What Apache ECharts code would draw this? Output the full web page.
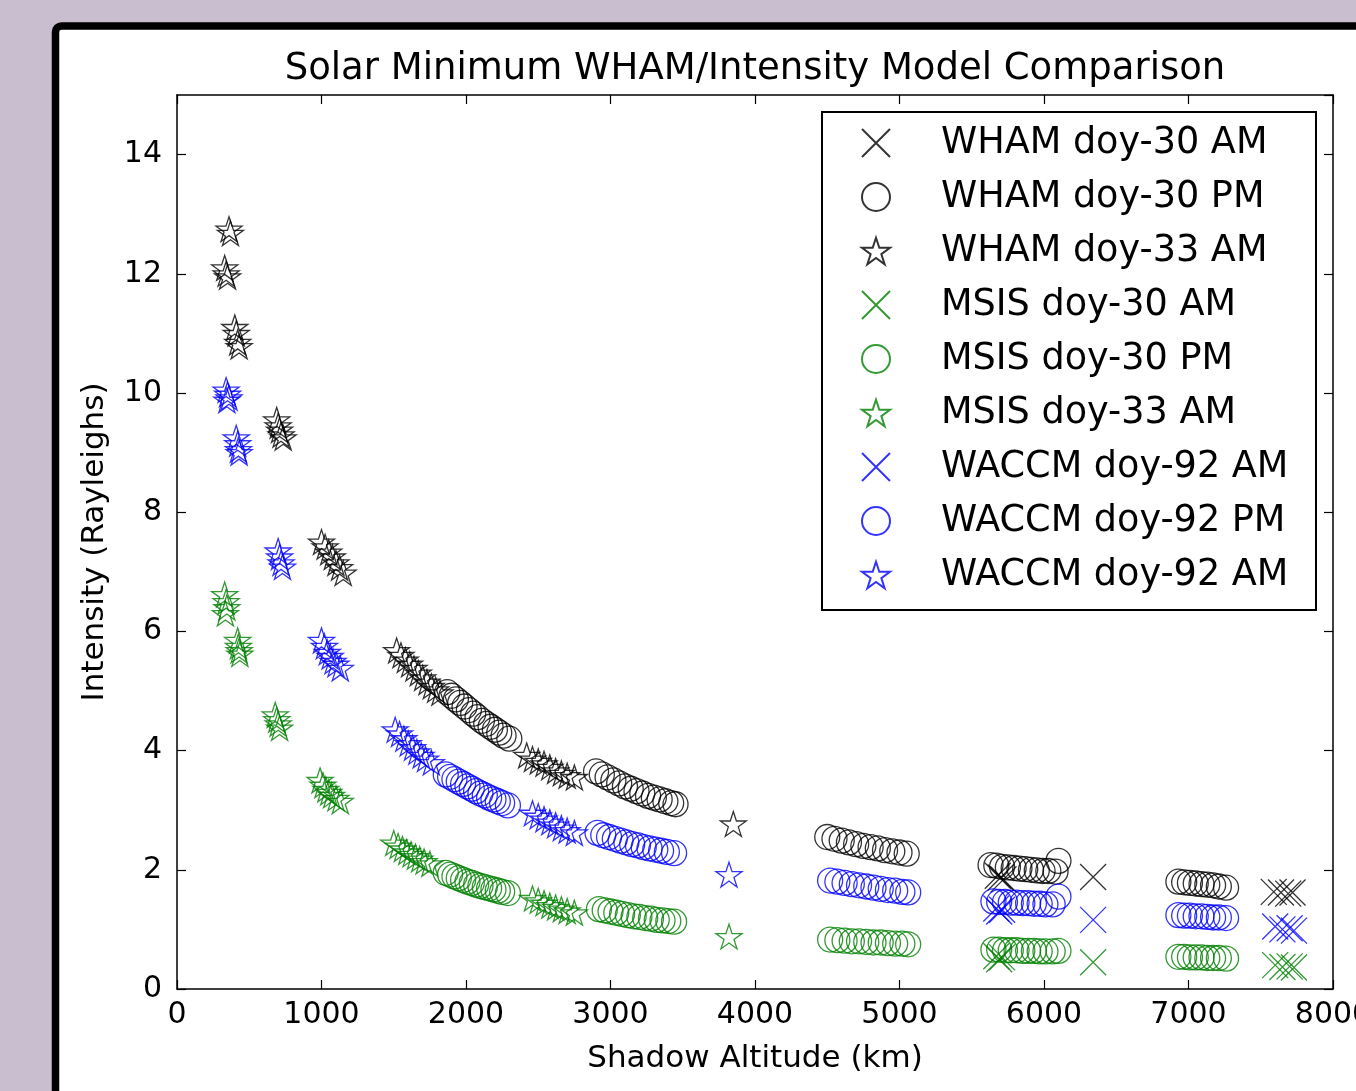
<!DOCTYPE html>
<html>
<head>
<meta charset="utf-8">
<script src="https://cdn.jsdelivr.net/npm/echarts@6/dist/echarts.min.js"></script>
<style>
  html, body { margin: 0; padding: 0; background: #c9bdd0; }
  #chart { width: 1356px; height: 1091px; }
</style>
</head>
<body>
<div id="chart"></div>
<script>
// [shadow altitude km, intensity R]
const whamAM = [
  [5680, 1.9], [5700, 1.87], [5720, 1.84], [6340, 1.88],
  [7590, 1.63], [7640, 1.62], [7690, 1.6], [7720, 1.62]
]
const whamPM = [
  [1870, 4.98], [1900, 4.92], [1930, 4.86], [1960, 4.8], [1990, 4.74], [2020, 4.68], [2050, 4.62], [2080, 4.56],
  [2110, 4.5], [2140, 4.45], [2170, 4.4], [2200, 4.35], [2230, 4.3], [2260, 4.25], [2300, 4.2],
  [2900, 3.65], [2940, 3.6], [2980, 3.55], [3020, 3.5], [3060, 3.45], [3100, 3.4], [3140, 3.36], [3180, 3.32],
  [3220, 3.28], [3260, 3.24], [3300, 3.21], [3340, 3.18], [3380, 3.15], [3420, 3.12], [3450, 3.1],
  [4500, 2.55], [4550, 2.52], [4600, 2.49], [4650, 2.46], [4700, 2.43], [4750, 2.4], [4800, 2.38], [4850, 2.36],
  [4900, 2.33], [4950, 2.31], [5000, 2.29], [5050, 2.27],
  [5630, 2.08], [5670, 2.07], [5710, 2.05], [5750, 2.04], [5790, 2.03], [5830, 2.02], [5870, 2.01], [5910, 2.0],
  [5950, 1.99], [5990, 1.98], [6030, 1.98], [6080, 1.97], [6100, 2.15],
  [6930, 1.8], [6970, 1.79], [7010, 1.78], [7050, 1.77], [7090, 1.76], [7130, 1.75], [7170, 1.74], [7210, 1.72], [7260, 1.7]
]
const whamStar = [
  [360, 12.75], [370, 12.68],
  [330, 12.1], [340, 12.0], [350, 11.95],
  [400, 11.1], [410, 11.0], [420, 10.85], [430, 10.78],
  [690, 9.55], [700, 9.45], [710, 9.38], [720, 9.3], [735, 9.25],
  [1000, 7.5], [1025, 7.42], [1050, 7.33], [1075, 7.25], [1100, 7.15], [1125, 7.07], [1150, 6.98],
  [1520, 5.68], [1550, 5.6], [1580, 5.52], [1610, 5.45], [1640, 5.38], [1670, 5.3], [1700, 5.22], [1730, 5.15],
  [1760, 5.08], [1790, 5.02], [1820, 4.97],
  [2420, 3.92], [2460, 3.86], [2500, 3.82], [2540, 3.78], [2580, 3.72], [2620, 3.66], [2660, 3.62], [2700, 3.58], [2750, 3.55],
  [3850, 2.77]
]
const msisAM = [
  [5670, 0.55], [5690, 0.5], [5710, 0.53], [6340, 0.45],
  [7600, 0.4], [7650, 0.37], [7700, 0.38], [7730, 0.36]
]
const msisPM = [
  [1860, 1.95], [1890, 1.92], [1920, 1.89], [1950, 1.86], [1980, 1.83], [2010, 1.8], [2040, 1.78], [2070, 1.75],
  [2100, 1.73], [2130, 1.71], [2160, 1.69], [2190, 1.67], [2220, 1.65], [2250, 1.63], [2290, 1.61],
  [2920, 1.34], [2960, 1.32], [3000, 1.3], [3040, 1.28], [3080, 1.26], [3120, 1.24], [3160, 1.22], [3200, 1.21],
  [3240, 1.19], [3280, 1.18], [3320, 1.16], [3360, 1.15], [3400, 1.14], [3440, 1.13],
  [4520, 0.83], [4570, 0.82], [4620, 0.81], [4670, 0.8], [4720, 0.8], [4770, 0.79], [4820, 0.78], [4870, 0.78],
  [4920, 0.77], [4970, 0.76], [5020, 0.76], [5060, 0.75],
  [5650, 0.66], [5690, 0.66], [5730, 0.65], [5770, 0.65], [5810, 0.65], [5850, 0.64], [5890, 0.64], [5930, 0.64],
  [5970, 0.63], [6010, 0.63], [6060, 0.63], [6100, 0.64],
  [6930, 0.54], [6970, 0.54], [7010, 0.53], [7050, 0.53], [7090, 0.53], [7130, 0.52], [7170, 0.52], [7210, 0.52], [7260, 0.51]
]
const msisStar = [
  [330, 6.62], [340, 6.5], [345, 6.4], [335, 6.3],
  [420, 5.85], [425, 5.75], [430, 5.68], [435, 5.62],
  [680, 4.6], [690, 4.52], [700, 4.45], [710, 4.38],
  [990, 3.5], [1010, 3.42], [1030, 3.35], [1050, 3.3], [1070, 3.25], [1100, 3.2], [1130, 3.15],
  [1500, 2.45], [1530, 2.4], [1560, 2.35], [1590, 2.3], [1620, 2.26], [1650, 2.22], [1680, 2.18], [1710, 2.14], [1750, 2.1],
  [2460, 1.52], [2500, 1.48], [2540, 1.44], [2580, 1.4], [2620, 1.37], [2660, 1.34], [2700, 1.31], [2750, 1.28],
  [3820, 0.88]
]
const waccmAM = [
  [5670, 1.35], [5690, 1.3], [5710, 1.33], [6340, 1.16],
  [7600, 1.05], [7650, 1.0], [7700, 1.02], [7730, 0.98]
]
const waccmPM = [
  [1860, 3.6], [1890, 3.56], [1920, 3.52], [1950, 3.48], [1980, 3.44], [2010, 3.4], [2040, 3.36], [2070, 3.32],
  [2100, 3.28], [2130, 3.25], [2160, 3.21], [2190, 3.18], [2220, 3.15], [2250, 3.12], [2290, 3.08],
  [2910, 2.62], [2950, 2.58], [2990, 2.55], [3030, 2.52], [3070, 2.49], [3110, 2.46], [3150, 2.43], [3190, 2.41],
  [3230, 2.38], [3270, 2.36], [3310, 2.34], [3350, 2.32], [3390, 2.3], [3440, 2.28],
  [4520, 1.82], [4570, 1.8], [4620, 1.78], [4670, 1.76], [4720, 1.74], [4770, 1.72], [4820, 1.7], [4870, 1.68],
  [4920, 1.66], [4970, 1.65], [5020, 1.63], [5060, 1.62],
  [5650, 1.47], [5690, 1.46], [5730, 1.46], [5770, 1.45], [5810, 1.45], [5850, 1.44], [5890, 1.44], [5930, 1.43],
  [5970, 1.43], [6010, 1.42], [6060, 1.42], [6100, 1.55],
  [6930, 1.24], [6970, 1.23], [7010, 1.23], [7050, 1.22], [7090, 1.22], [7130, 1.21], [7170, 1.2], [7210, 1.2], [7260, 1.19]
]
const waccmStar = [
  [340, 10.05], [350, 9.98], [360, 9.92], [345, 9.88],
  [410, 9.25], [420, 9.15], [425, 9.05], [430, 9.0],
  [700, 7.35], [710, 7.25], [720, 7.15], [730, 7.08],
  [1000, 5.85], [1020, 5.75], [1040, 5.65], [1060, 5.58], [1080, 5.5], [1100, 5.45], [1130, 5.38],
  [1510, 4.35], [1540, 4.28], [1570, 4.2], [1600, 4.12], [1630, 4.05], [1660, 3.98], [1690, 3.92], [1720, 3.86], [1760, 3.8],
  [2460, 2.95], [2500, 2.9], [2540, 2.85], [2580, 2.8], [2620, 2.75], [2660, 2.7], [2700, 2.66], [2750, 2.62],
  [3820, 1.92]
]

const FONT = 'DejaVu Sans'
const xSym = 'path://M0 0 L10 10 M10 0 L0 10'
const starSym = 'path://M50 0 L61.23 34.55 L97.55 34.55 L68.17 55.9 L79.39 90.45 L50 69.1 L20.61 90.45 L31.83 55.9 L2.45 34.55 L38.77 34.55 Z'

// 注意: 第二个 "WACCM doy-92 AM" 末尾加空格, 否则图例会合并
const seriesDefs = [
  { name: 'WHAM doy-30 AM', data: whamAM, symbol: xSym, color: '#000000' },
  { name: 'WHAM doy-30 PM', data: whamPM, symbol: 'circle', color: '#000000' },
  { name: 'WHAM doy-33 AM', data: whamStar, symbol: starSym, color: '#000000' },
  { name: 'MSIS doy-30 AM', data: msisAM, symbol: xSym, color: '#008000' },
  { name: 'MSIS doy-30 PM', data: msisPM, symbol: 'circle', color: '#008000' },
  { name: 'MSIS doy-33 AM', data: msisStar, symbol: starSym, color: '#008000' },
  { name: 'WACCM doy-92 AM', data: waccmAM, symbol: xSym, color: '#0000ff' },
  { name: 'WACCM doy-92 PM', data: waccmPM, symbol: 'circle', color: '#0000ff' },
  { name: 'WACCM doy-92 AM ', data: waccmStar, symbol: starSym, color: '#0000ff' }
]

const chart = echarts.init(document.getElementById('chart'))

const axisLine = { show: true, onZero: false, lineStyle: { color: '#000', width: 1.5 } }
const axisTick = { show: true, inside: true, length: 9, lineStyle: { color: '#000', width: 1.2 } }

const option = {
  animation: false,
  textStyle: { fontFamily: FONT },
  graphic: [
    {
      type: 'rect',
      z: -10,
      silent: true,
      shape: { x: 55.5, y: 26, width: 1400, height: 1200, r: 6 },
      style: { fill: '#ffffff', stroke: '#000000', lineWidth: 7.5 }
    },
    {
      type: 'text',
      x: 755,
      y: 69,
      silent: true,
      style: {
        text: 'Solar Minimum WHAM/Intensity Model Comparison',
        font: '37px "DejaVu Sans"',
        fill: '#000',
        textAlign: 'center',
        textVerticalAlign: 'middle'
      }
    }
  ],
  grid: { left: 177, right: 23, top: 95, bottom: 102, containLabel: false, outerBoundsMode: 'none' },
  legend: {
    orient: 'vertical',
    left: 822,
    top: 112,
    padding: [11, 16, 15, 39],
    itemWidth: 28,
    itemHeight: 28,
    itemGap: 14,
    backgroundColor: '#ffffff',
    borderColor: '#000000',
    borderWidth: 2,
    borderRadius: 0,
    selectedMode: false,
    textStyle: { fontFamily: FONT, fontSize: 36.6, color: '#000', lineHeight: 40, padding: [0, 0, 0, 46] },
    data: seriesDefs.map(s => s.name)
  },
  xAxis: [
    {
      type: 'value', min: 0, max: 8000, interval: 1000, position: 'bottom',
      axisLine, axisTick,
      splitLine: { show: false },
      axisLabel: { fontFamily: FONT, fontSize: 30, color: '#000', margin: 11, formatter: v => String(v) },
      name: 'Shadow Altitude (km)', nameLocation: 'middle', nameGap: 54,
      nameTextStyle: { fontFamily: FONT, fontSize: 31, color: '#000' }
    },
    {
      type: 'value', min: 0, max: 8000, interval: 1000, position: 'top',
      axisLine, axisTick,
      splitLine: { show: false },
      axisLabel: { show: false }
    }
  ],
  yAxis: [
    {
      type: 'value', min: 0, max: 15, interval: 2, position: 'left',
      axisLine, axisTick,
      splitLine: { show: false },
      axisLabel: { fontFamily: FONT, fontSize: 30, color: '#000', margin: 15, showMaxLabel: false },
      name: 'Intensity (Rayleighs)', nameLocation: 'middle', nameGap: 67,
      nameTextStyle: { fontFamily: FONT, fontSize: 31, color: '#000' }
    },
    {
      type: 'value', min: 0, max: 15, interval: 2, position: 'right',
      axisLine, axisTick,
      splitLine: { show: false },
      axisLabel: { show: false }
    }
  ],
  series: seriesDefs.map(s => ({
    name: s.name,
    type: 'scatter',
    data: s.data,
    symbol: s.symbol,
    symbolSize: s.symbol === 'circle' ? 25 : 26,
    symbolKeepAspect: true,
    itemStyle: { color: 'rgba(0,0,0,0)', borderColor: s.color, borderWidth: 1.3 },
    emphasis: { disabled: true }
  }))
}

chart.setOption(option)
</script>
</body>
</html>
